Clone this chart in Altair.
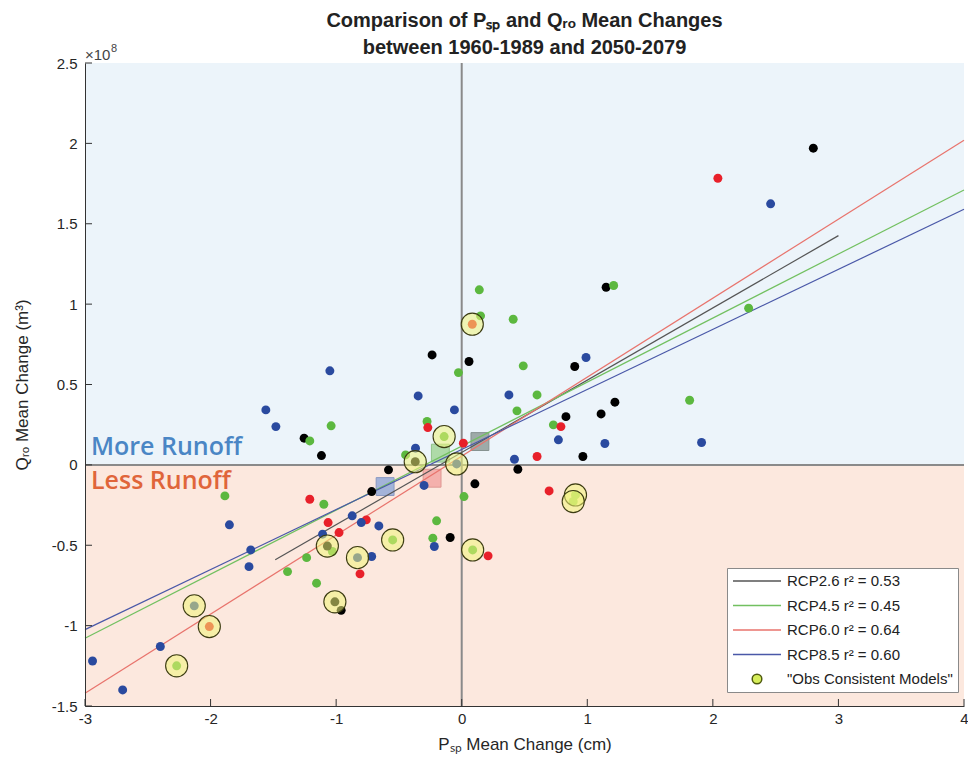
import altair as alt
import pandas as pd

# ---------------- data ----------------
rcp_names = ["RCP2.6", "RCP4.5", "RCP6.0", "RCP8.5"]
dot_colors = ["#000000", "#5cb83f", "#e8202a", "#2a4a9f"]

x26 = [2.80, 1.15, 0.90, 1.22, 1.11, 0.83, 0.965, 0.447, -1.255, -1.117, -0.236,
       0.058, -0.583, 0.105, -0.717, -0.092, -0.96]
y26 = [1.97, 1.105, 0.612, 0.39, 0.317, 0.30, 0.052, -0.027, 0.166, 0.058, 0.684,
       0.643, -0.031, -0.118, -0.166, -0.452, -0.905]

x45 = [1.21, 2.285, 0.14, 0.15, 0.41, 0.49, 0.60, 0.44, 0.73, 1.815, -1.04, -1.21,
       -0.026, -0.276, -0.447, 0.018, -1.886, -1.098, -1.03, -0.20, -0.23, -1.387,
       -1.235, -1.156]
y45 = [1.116, 0.975, 1.089, 0.927, 0.906, 0.616, 0.435, 0.336, 0.249, 0.402, 0.243,
       0.149, 0.574, 0.27, 0.062, -0.197, -0.193, -0.245, -0.539, -0.348, -0.456,
       -0.664, -0.577, -0.736]

x60 = [2.04, 0.79, 0.60, -0.27, 0.013, -1.21, -1.064, -0.76, -0.977, -0.81, 0.21, 0.696]
y60 = [1.783, 0.238, 0.052, 0.232, 0.135, -0.214, -0.359, -0.342, -0.421, -0.678,
       -0.566, -0.162]

x85 = [2.46, 0.99, 0.376, 0.77, 1.14, 1.91, 0.42, -1.05, -1.56, -1.48, -0.347, -0.058,
       -0.368, -0.30, -1.85, -0.872, -0.80, -0.66, -1.108, -0.717, -0.218, -1.68,
       -1.694, -2.40, -2.94, -2.70]
y85 = [1.624, 0.668, 0.435, 0.156, 0.133, 0.139, 0.035, 0.585, 0.342, 0.238, 0.429,
       0.342, 0.104, -0.128, -0.373, -0.317, -0.359, -0.38, -0.431, -0.57, -0.508,
       -0.529, -0.633, -1.13, -1.22, -1.40]

# "Obs Consistent Models" (circled)
obs_x = [0.084, -0.14, -0.37, -0.04, -1.07, -0.83, -0.55, 0.087, -1.01, -2.13, -2.01,
         -2.27, 0.906, 0.888]
obs_y = [0.875, 0.176, 0.02, 0.006, -0.505, -0.577, -0.467, -0.529, -0.852, -0.877,
         -1.006, -1.25, -0.187, -0.228]
obs_rcp = ["RCP6.0", "RCP4.5", "RCP2.6", "RCP8.5", "RCP2.6", "RCP8.5", "RCP4.5",
           "RCP4.5", "RCP2.6", "RCP8.5", "RCP6.0", "RCP4.5", "RCP4.5", "RCP4.5"]

# ensemble means (squares)
mean_x = [0.145, -0.17, -0.236, -0.61]
mean_y = [0.145, 0.073, -0.083, -0.135]
mean_fill = ["#8b9894", "#9fd494", "#f3a3a0", "#8ea6d8"]
mean_stroke = ["#6d7a76", "#7cb870", "#d88480", "#6d86bb"]

# regression lines (end points)
legend_labels = ["RCP2.6 r\u00b2 = 0.53", "RCP4.5 r\u00b2 = 0.45",
                 "RCP6.0 r\u00b2 = 0.64", "RCP8.5 r\u00b2 = 0.60",
                 "\"Obs Consistent Models\""]
legend_colors = ["#555555", "#72c060", "#e8736c", "#4a58a8", "#4f5a10"]
line_x0 = [-1.485, -3.0, -3.0, -3.0]
line_y0 = [-0.59, -1.078, -1.42, -1.025]
line_x1 = [3.0, 4.0, 4.0, 4.0]
line_y1 = [1.426, 1.71, 2.02, 1.59]

x_ticks = [-3, -2, -1, 0, 1, 2, 3, 4]
y_ticks = [-1.5, -1, -0.5, 0, 0.5, 1, 1.5, 2, 2.5]

# ---------------- tables ----------------
cmap = dict(zip(rcp_names, dot_colors))
rows = []
for name, xs, ys in zip(rcp_names, [x26, x45, x60, x85], [y26, y45, y60, y85]):
    for a, b in zip(xs, ys):
        rows.append({"x": a, "y": b, "c": cmap[name]})
for a, b, r in zip(obs_x, obs_y, obs_rcp):
    rows.append({"x": a, "y": b, "c": cmap[r]})
dots_df = pd.DataFrame(rows)
obs_df = pd.DataFrame({"x": obs_x, "y": obs_y})
mean_df = pd.DataFrame({"x": mean_x, "y": mean_y, "f": mean_fill, "s": mean_stroke})
lrows = []
for i in range(4):
    lrows.append({"series": legend_labels[i], "x": line_x0[i], "y": line_y0[i]})
    lrows.append({"series": legend_labels[i], "x": line_x1[i], "y": line_y1[i]})
lines_df = pd.DataFrame(lrows)
bg_df = pd.DataFrame({"x0": [-3, -3], "x1": [4, 4], "y0": [0, -1.5], "y1": [2.5, 0],
                      "c": ["#ecf4fa", "#fce8de"]})

# ---------------- encodings ----------------
FONT = "Liberation Sans"
W, H = 879, 643
xscale = alt.Scale(domain=[-3, 4], nice=False, zero=False)
yscale = alt.Scale(domain=[-1.5, 2.5], nice=False, zero=False)
xaxis = alt.Axis(values=x_ticks, labelExpr="toString(datum.value)",
                 title="P\u209b\u209a Mean Change (cm)", ticks=False, grid=False,
                 domainColor="#333333", labelFont=FONT, labelFontSize=15,
                 labelColor="#262626", labelPadding=5, labelFlush=False,
                 labelOverlap=False, titleFont=FONT, titleFontSize=17,
                 titleFontWeight="normal", titleColor="#262626", titlePadding=10,
                 zindex=1)
yaxis = alt.Axis(values=y_ticks, labelExpr="toString(datum.value)",
                 title="Q\u1d63\u2092 Mean Change (m\u00b3)", ticks=False, grid=False,
                 domainColor="#333333", labelFont=FONT, labelFontSize=15,
                 labelColor="#262626", labelPadding=8, labelFlush=False,
                 labelOverlap=False, titleFont=FONT, titleFontSize=17,
                 titleFontWeight="normal", titleColor="#262626", titlePadding=20,
                 zindex=1)


def X(f):
    return alt.X(f, scale=xscale, axis=xaxis)


def Y(f):
    return alt.Y(f, scale=yscale, axis=yaxis)


bg = alt.Chart(bg_df).mark_rect().encode(
    x=X("x0:Q"), x2="x1:Q", y=Y("y0:Q"), y2="y1:Q",
    fill=alt.Fill("c:N", scale=None))

zero_v = alt.Chart(pd.DataFrame({"x": [0]})).mark_rule(
    color="#8a8a8a", strokeWidth=2).encode(x=X("x:Q"))
zero_h = alt.Chart(pd.DataFrame({"y": [0]})).mark_rule(
    color="#8a8a8a", strokeWidth=2).encode(y=Y("y:Q"))

means = alt.Chart(mean_df).mark_square(size=320, opacity=0.8, strokeWidth=1).encode(
    x=X("x:Q"), y=Y("y:Q"),
    fill=alt.Fill("f:N", scale=None), stroke=alt.Stroke("s:N", scale=None))

circle_path = "M-0.2,0A0.2,0.2 0 1,1 0.2,0A0.2,0.2 0 1,1 -0.2,0Z"
legend = alt.Legend(
    title=None, orient="none", direction="vertical", legendX=642, legendY=505,
    symbolType=alt.ExprRef(
        expr="indexof(datum.label, 'Obs') >= 0 ? '" + circle_path + "' : 'stroke'"),
    symbolFillColor=alt.ExprRef(
        expr="indexof(datum.label, 'Obs') >= 0 ? '#d6ee5a' : 'transparent'"),
    symbolSize=2304, symbolStrokeWidth=1.5, clipHeight=16, rowPadding=8.5,
    labelFont=FONT, labelFontSize=15, labelColor="#222222", labelOffset=5,
    labelLimit=400, padding=5, fillColor="white", strokeColor="#8a8a8a",
    symbolOffset=0, zindex=2)

lines = alt.Chart(lines_df).mark_line(strokeWidth=1.2).encode(
    x=X("x:Q"), y=Y("y:Q"),
    color=alt.Color("series:N", scale=alt.Scale(domain=legend_labels,
                                                range=legend_colors),
                    legend=legend))

dots = alt.Chart(dots_df).mark_circle(size=80, opacity=1).encode(
    x=X("x:Q"), y=Y("y:Q"), fill=alt.Fill("c:N", scale=None))

obs = alt.Chart(obs_df).mark_circle(
    size=490, fill="#f0f47a", fillOpacity=0.55, stroke="#3b3b12",
    strokeWidth=1.1, opacity=1).encode(x=X("x:Q"), y=Y("y:Q"))

ticks_x = alt.Chart(pd.DataFrame({"x": x_ticks})).mark_rule(color="#333333").encode(
    x=X("x:Q"), y=alt.value(H), y2=alt.value(H - 7))
ticks_y = alt.Chart(pd.DataFrame({"y": y_ticks})).mark_rule(color="#333333").encode(
    y=Y("y:Q"), x=alt.value(0), x2=alt.value(7))

ann_df = pd.DataFrame({"x": [-3], "y": [0]})
more_txt = alt.Chart(ann_df).mark_text(
    text="More Runoff", align="left", baseline="alphabetic", dx=6, dy=-10,
    font="Open Sans", fontSize=25, fontWeight=600, color="#4a86c5").encode(
    x=X("x:Q"), y=Y("y:Q"))
less_txt = alt.Chart(ann_df).mark_text(
    text="Less Runoff", align="left", baseline="alphabetic", dx=6, dy=24,
    font="Open Sans", fontSize=25, fontWeight=600, color="#e0653a").encode(
    x=X("x:Q"), y=Y("y:Q"))
top_df = pd.DataFrame({"x": [-3], "y": [2.5]})
mult_txt = alt.Chart(top_df).mark_text(
    text="\u00d710", align="left", baseline="alphabetic", dx=0, dy=-3,
    font=FONT, fontSize=15, color="#444444").encode(x=X("x:Q"), y=Y("y:Q"))
exp_txt = alt.Chart(top_df).mark_text(
    text="8", align="left", baseline="alphabetic", dx=26, dy=-11,
    font=FONT, fontSize=11, color="#444444").encode(x=X("x:Q"), y=Y("y:Q"))

chart = alt.layer(
    bg, zero_v, zero_h, means, lines, dots, obs, ticks_x, ticks_y,
    more_txt, less_txt, mult_txt, exp_txt
).properties(
    width=W, height=H,
    title=alt.TitleParams(
        text=["Comparison of P\u209b\u209a and Q\u1d63\u2092 Mean Changes",
              "between 1960-1989 and 2050-2079"],
        font=FONT, fontSize=20, fontWeight="bold", color="#222222",
        offset=10, dy=25, lineHeight=27, anchor="middle", frame="group"),
    autosize=alt.AutoSizeParams(type="none"),
    padding={"left": 77, "top": 55, "right": 4, "bottom": 50},
).configure_view(stroke=None)

chart.save("out.html", embed_options={"renderer": "svg", "actions": False})
